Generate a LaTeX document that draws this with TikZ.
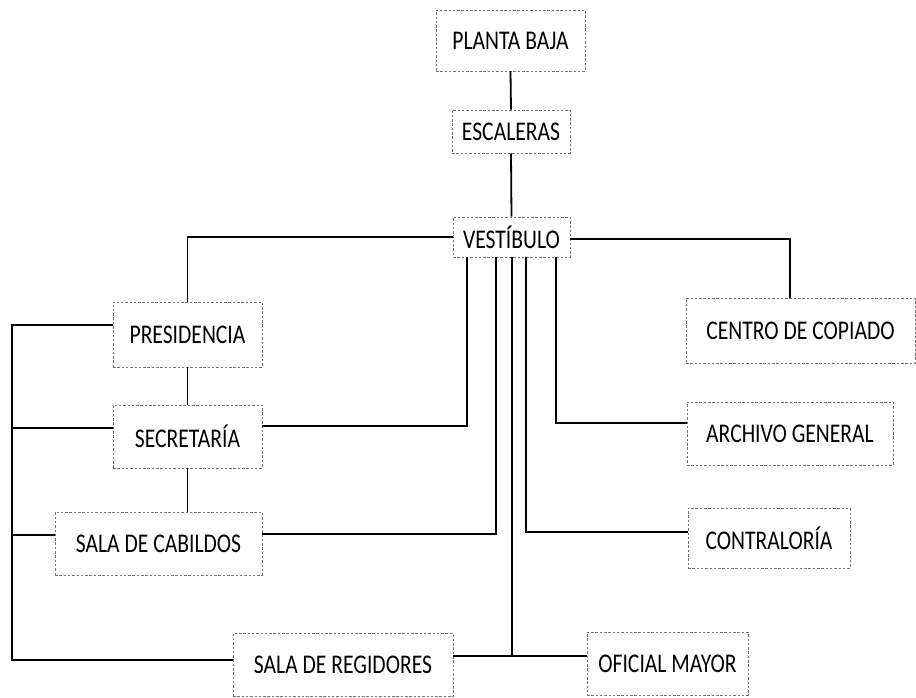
\documentclass[tikz,border=0pt]{standalone}
\usepackage{fontspec}
\setmainfont[FakeStretch=0.8]{Carlito}
\begin{document}
\begin{tikzpicture}[x=1pt,y=-1pt,
  room/.style={draw=black!55, line width=0.6pt, dash pattern=on 2.5pt off 1.8pt,
    inner sep=0pt, align=center, font=\fontsize{27}{30}\selectfont},
  link/.style={draw=black, line width=1.8pt}]
\useasboundingbox (0,0) rectangle (916,697);
% rooms
\node[room, minimum width=149pt, minimum height=61pt] (pb)  at (510.5,40.5)  {PLANTA BAJA};
\node[room, minimum width=118pt, minimum height=43pt] (esc) at (511,131.5)   {ESCALERAS};
\node[room, minimum width=117pt, minimum height=40pt] (ves) at (511.5,237)   {VESTÍBULO};
\node[room, minimum width=149pt, minimum height=65pt] (pres) at (187.5,334.5) {PRESIDENCIA};
\node[room, minimum width=149pt, minimum height=63pt] (sec) at (187.5,436.5) {SECRETARÍA};
\node[room, minimum width=207pt, minimum height=63pt] (cab) at (158.5,543.5) {SALA DE CABILDOS};
\node[room, minimum width=220pt, minimum height=63pt] (reg) at (343,665)     {SALA DE REGIDORES};
\node[room, minimum width=161pt, minimum height=63pt] (ofi) at (667.5,663.5) {OFICIAL MAYOR};
\node[room, minimum width=229pt, minimum height=65pt] (cen) at (800.5,330.5) {CENTRO DE COPIADO};
\node[room, minimum width=206pt, minimum height=63pt] (arc) at (790,433.5)   {ARCHIVO GENERAL};
\node[room, minimum width=162pt, minimum height=60pt] (con) at (769,538)     {CONTRALORÍA};
% junction points
\coordinate (jsec) at (467,426);
\coordinate (jcab) at (496,534);
\coordinate (jbot) at (512,656);
\coordinate (jcon) at (526,532);
\coordinate (jarc) at (556,423);
\coordinate (jcen) at (790,239);
\coordinate (lbtop) at (12,325);
\coordinate (lbbot) at (12,660);
\coordinate (lbsec) at (12,428);
\coordinate (lbcab) at (12,535);
% vertical spine
\draw[link] (pb.south) -- (esc.north);
\draw[link] (esc.south) -- (ves.north);
\draw[link] (ves.west) -| (pres.north);
\draw[link] (jcen -| ves.east) -- (jcen) -- (jcen |- cen.north);
\draw[link] (pres.south) -- (sec.north);
\draw[link] (sec.south) -- (sec.south |- cab.north);
% branches from the hall
\draw[link] (ves.south -| jsec) -- (jsec) -- (jsec -| sec.east);
\draw[link] (ves.south -| jcab) -- (jcab) -- (jcab -| cab.east);
\draw[link] (ves.south -| jbot) -- (jbot);
\draw[link] (ves.south -| jcon) -- (jcon) -- (jcon -| con.west);
\draw[link] (ves.south -| jarc) -- (jarc) -- (jarc -| arc.west);
\draw[link] (jbot -| reg.east) -- (jbot -| ofi.west);
% left bus
\draw[link] (lbtop -| pres.west) -- (lbtop) -- (lbbot) -- (lbbot -| reg.west);
\draw[link] (lbsec) -- (lbsec -| sec.west);
\draw[link] (lbcab) -- (lbcab -| cab.west);
\end{tikzpicture}
\end{document}
